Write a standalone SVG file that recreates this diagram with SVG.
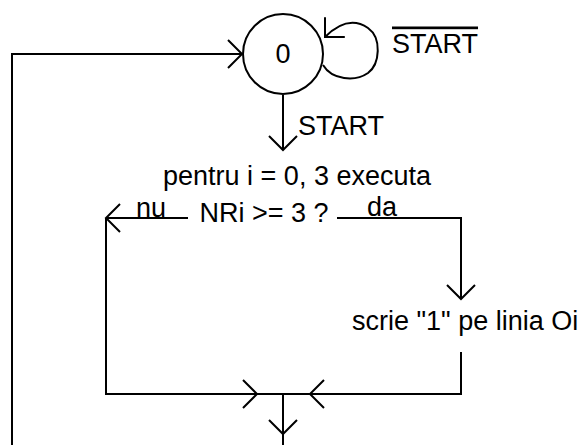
<svg xmlns="http://www.w3.org/2000/svg" width="582" height="445" viewBox="0 0 582 445">
<style>
.ln{fill:none;stroke:#000;stroke-width:2}
.t{font-family:"Liberation Sans",Arial,sans-serif;font-size:27px;fill:#000}
</style>
<defs>
<marker id="ah" markerUnits="userSpaceOnUse" viewBox="-16 -16 18 32" refX="0" refY="0" markerWidth="18" markerHeight="32" orient="auto" overflow="visible">
<path d="M-14,-14 L0,0 L-14,14" fill="none" stroke="#000" stroke-width="2"/>
</marker>
</defs>
<rect width="582" height="445" fill="#fff"/>
<g id="connectors">
<path class="ln" d="M12,445 V54 H242" marker-end="url(#ah)"/>
<path class="ln" d="M323,65 C332,80 355,82 368,73 C380,64 382,38 368,28 C355,19 340,22 325,37" marker-end="url(#ah)"/>
<path class="ln" d="M283,95 V150" marker-end="url(#ah)"/>
<path class="ln" d="M188,218 H106" marker-end="url(#ah)"/>
<path class="ln" d="M106,218 V394 H257" marker-end="url(#ah)"/>
<path class="ln" d="M337,218 H461 V299" marker-end="url(#ah)"/>
<path class="ln" d="M461,352 V394 H310" marker-end="url(#ah)"/>
<path class="ln" d="M257,394 H310"/>
<path class="ln" d="M283,394 V434" marker-end="url(#ah)"/>
<path class="ln" d="M283,434 V445"/>
</g>
<g id="state0">
<circle class="ln" cx="283" cy="54" r="40"/>
<text class="t" x="283" y="63" text-anchor="middle">0</text>
</g>
<g id="label-notstart">
<text class="t" x="392" y="52.5" text-decoration="overline">START</text>
</g>
<g id="label-start">
<text class="t" x="298" y="135">START</text>
</g>
<g id="loop">
<text class="t" x="297" y="185" text-anchor="middle">pentru i = 0, 3 executa</text>
</g>
<g id="decision">
<text class="t" x="264" y="222" text-anchor="middle">NRi &gt;= 3 ?</text>
<text class="t" x="136" y="216.5">nu</text>
<text class="t" x="367" y="216">da</text>
</g>
<g id="action">
<text class="t" x="352" y="330">scrie "1" pe linia Oi</text>
</g>
</svg>
